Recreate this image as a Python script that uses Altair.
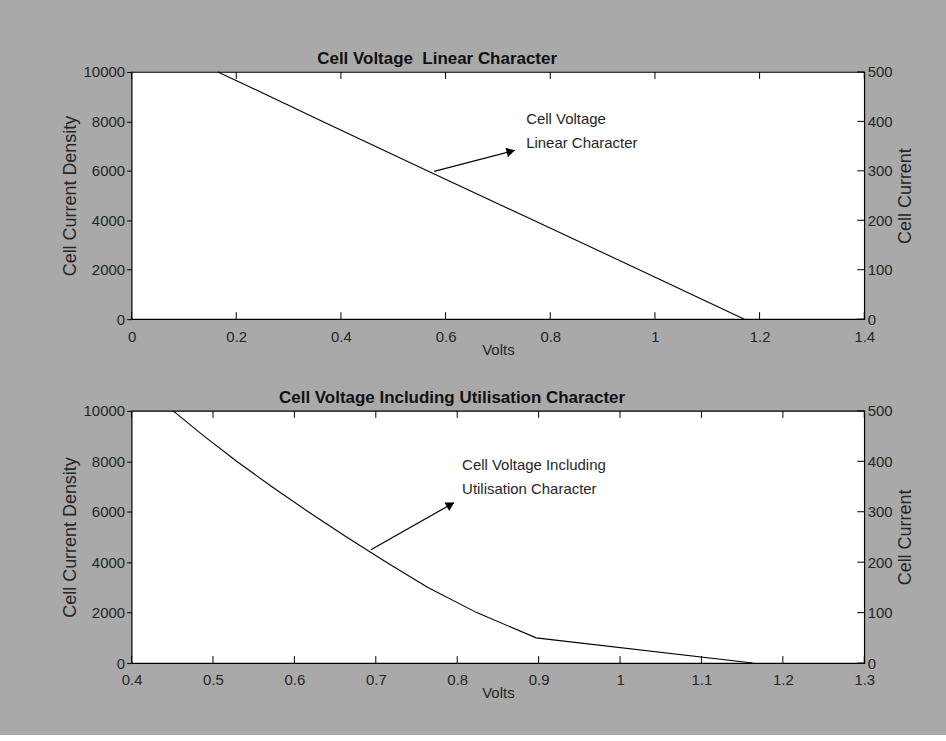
import math
import altair as alt
import pandas as pd

# ---------------- data ----------------
# Panel 1: Cell Voltage Linear Character
p1_volts = [0.165, 0.365, 0.565, 0.768, 0.970, 1.171]
p1_density = [10000, 8000, 6000, 4000, 2000, 0]
p1_xticks = [0, 0.2, 0.4, 0.6, 0.8, 1.0, 1.2, 1.4]
p1_arrow_from = (0.578, 5980)
p1_arrow_to = (0.732, 6827)
p1_label = "Cell Voltage\nLinear Character"
p1_label_at = (0.754, 7903)
p1_title = "Cell Voltage\u00a0 Linear Character"

# Panel 2: Cell Voltage Including Utilisation Character
p2_volts = [0.451, 0.489, 0.529, 0.572, 0.617, 0.664, 0.713, 0.764, 0.824, 0.897, 1.163]
p2_density = [10000, 9000, 8000, 7000, 6000, 5000, 4000, 3000, 2000, 1000, 0]
p2_xticks = [0.4, 0.5, 0.6, 0.7, 0.8, 0.9, 1.0, 1.1, 1.2, 1.3]
p2_arrow_from = (0.694, 4492)
p2_arrow_to = (0.796, 6360)
p2_label = "Cell Voltage Including\nUtilisation Character"
p2_label_at = (0.806, 7640)
p2_title = "Cell Voltage Including Utilisation Character"

left_ticks = [0, 2000, 4000, 6000, 8000, 10000]
right_ticks = [0, 100, 200, 300, 400, 500]

# ---------------- style ----------------
BG = "#a9a9a9"
TXT = "#262626"
REG = "Liberation Sans, Arial, sans-serif"
W = 735
TICK = 7


def panel(volts, dens, xdom, xticks, afrom, ato, label, label_at, title, title_dx, H):
    xs = alt.Scale(domain=xdom, nice=False, zero=False)
    ys = alt.Scale(domain=[0, 10000], nice=False, zero=False)

    xaxis = alt.Axis(values=xticks, title="Volts", ticks=False, labelPadding=10,
                     titlePadding=-2, domain=False, grid=False, format="~g",
                     labelFlush=False, labelOverlap=False)
    yaxis = alt.Axis(values=left_ticks, title="Cell Current Density", tickSize=5,
                     labelPadding=2, titlePadding=4, domain=False, grid=False,
                     format="d", labelFlush=False, labelOverlap=False)

    def X(f):
        return alt.X(f, type="quantitative", scale=xs, axis=xaxis)

    def Y(f):
        return alt.Y(f, type="quantitative", scale=ys, axis=yaxis)

    line_df = pd.DataFrame({"v": volts, "d": dens})
    line = alt.Chart(line_df).mark_line(color="black", strokeWidth=1.1).encode(
        x=X("v"), y=Y("d"), order="d:Q",
    )

    xt_df = pd.DataFrame({"v": xticks})
    xt_bottom = alt.Chart(xt_df).mark_rule(color="black", strokeWidth=1).encode(
        x=X("v"), y=alt.value(H), y2=alt.value(H - TICK),
    )
    xt_top = alt.Chart(xt_df).mark_rule(color="black", strokeWidth=1).encode(
        x=X("v"), y=alt.value(0), y2=alt.value(TICK),
    )
    yt_df = pd.DataFrame({"d": left_ticks})
    yt_right = alt.Chart(yt_df).mark_rule(color="black", strokeWidth=1).encode(
        y=Y("d"), x=alt.value(W - TICK), x2=alt.value(W),
    )

    ar_df = pd.DataFrame({"v": [afrom[0]], "d": [afrom[1]], "v2": [ato[0]], "d2": [ato[1]]})
    shaft = alt.Chart(ar_df).mark_rule(color="black", strokeWidth=1.2).encode(
        x=X("v"), y=Y("d"), x2="v2:Q", y2="d2:Q",
    )
    # arrowhead direction in screen space
    dx = (ato[0] - afrom[0]) / (xdom[1] - xdom[0]) * W
    dy = (ato[1] - afrom[1]) / 10000 * H
    ang = math.degrees(math.atan2(dy, dx))
    head_df = pd.DataFrame({"v": [ato[0]], "d": [ato[1]]})
    head = alt.Chart(head_df).mark_point(
        shape="triangle-up", filled=True, color="black", opacity=1, size=95,
        angle=90 - ang,
        xOffset=-4 * math.cos(math.radians(ang)), yOffset=4 * math.sin(math.radians(ang)),
    ).encode(x=X("v"), y=Y("d"))

    lab_df = pd.DataFrame({"v": [label_at[0]], "d": [label_at[1]], "t": [label]})
    lab = alt.Chart(lab_df).mark_text(
        align="left", baseline="alphabetic", lineBreak="\n", lineHeight=24,
        font=REG, fontSize=15, color=TXT,
    ).encode(x=X("v"), y=Y("d"), text="t:N")

    inner = alt.layer(line, xt_bottom, xt_top, yt_right, shaft, head, lab)

    r_df = pd.DataFrame({"r": right_ticks})
    right = alt.Chart(r_df).mark_rule(opacity=0).encode(
        y=alt.Y("r:Q", scale=alt.Scale(domain=[0, 500], nice=False, zero=False),
                axis=alt.Axis(orient="right", values=right_ticks, title="Cell Current",
                              ticks=False, labelPadding=3, titlePadding=4,
                              titleAngle=270, titleBaseline="top",
                              domain=False, grid=False, format="d",
                              labelFlush=False, labelOverlap=False)),
        x=alt.value(0),
    )

    return alt.layer(inner, right).resolve_scale(y="independent").properties(
        width=W, height=H,
        title=alt.TitleParams(title, anchor="middle", dx=title_dx, offset=-3,
                              font=REG, fontSize=17, fontWeight="bold", color="#111"),
    )


top = panel(p1_volts, p1_density, [0, 1.4], p1_xticks, p1_arrow_from, p1_arrow_to,
            p1_label, p1_label_at, p1_title, -61, 248)
bottom = panel(p2_volts, p2_density, [0.4, 1.3], p2_xticks, p2_arrow_from, p2_arrow_to,
               p2_label, p2_label_at, p2_title, -46, 253)

chart = alt.vconcat(top, bottom, spacing=30).properties(
    background=BG,
    padding={"left": 60, "top": 48, "right": 31, "bottom": 32},
).configure_view(
    fill="white", stroke="black", strokeWidth=1.2,
).configure_axis(
    labelFont=REG, labelFontSize=15, labelColor=TXT,
    titleFont=REG, titleFontSize=15, titleColor=TXT, titleFontWeight="normal",
    tickColor="black",
).configure_axisY(
    titleFont=REG, titleFontSize=18,
)

chart.save("out.html", embed_options={"renderer": "svg", "actions": False})
